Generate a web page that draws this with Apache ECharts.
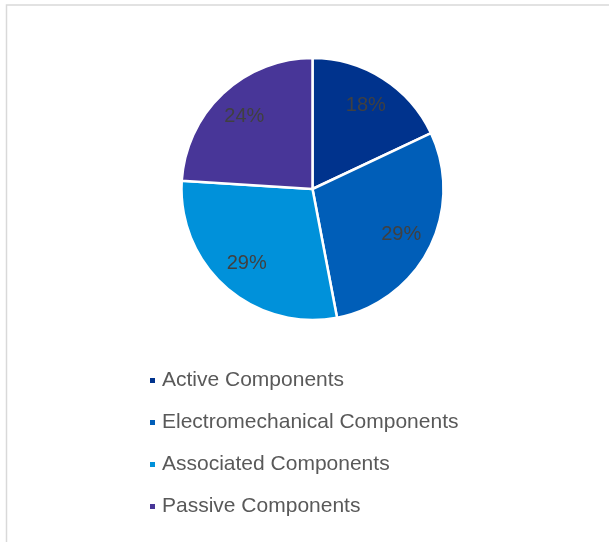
<!DOCTYPE html>
<html>
<head>
<meta charset="utf-8">
<script src="https://cdn.jsdelivr.net/npm/echarts@6/dist/echarts.min.js"></script>
<style>
  html, body { margin: 0; padding: 0; background: #ffffff; }
  #chart { width: 609px; height: 542px; }
</style>
</head>
<body>
<div id="chart"></div>
<script>
// Component categories and their shares (%)
const categories = ['Active Components', 'Electromechanical Components', 'Associated Components', 'Passive Components'];
const shares = [18, 29, 29, 24];
const colors = ['#00338D', '#005EB8', '#0091DA', '#483698'];

const center = [312.5, 189];
const outerR = 131;

const sliceData = categories.map((name, i) => ({
  name: name,
  value: shares[i],
  itemStyle: { color: colors[i] }
}));

const chart = echarts.init(document.getElementById('chart'), null, { renderer: 'canvas' });

chart.setOption({
  backgroundColor: '#ffffff',
  animation: false,
  graphic: [{
    type: 'rect',
    shape: { x: 6.5, y: 5, width: 800, height: 800 },
    style: { fill: 'none', stroke: '#d9d9d9', lineWidth: 1.5 },
    silent: true,
    z: -10
  }],
  legend: {
    orient: 'vertical',
    left: 143,
    top: 365,
    itemWidth: 7,
    itemHeight: 7,
    itemGap: 21,
    icon: 'rect',
    selectedMode: false,
    data: categories,
    textStyle: {
      fontFamily: 'Liberation Sans, Arial, sans-serif',
      fontSize: 21,
      lineHeight: 21,
      color: '#595959',
      padding: [0, 0, 0, 1]
    }
  },
  series: [
    {
      // the pie itself
      type: 'pie',
      center: center,
      radius: [0, outerR],
      startAngle: 90,
      clockwise: true,
      label: { show: false },
      labelLine: { show: false },
      itemStyle: { borderColor: '#ffffff', borderWidth: 2.5 },
      emphasis: { disabled: true },
      data: sliceData
    },
    {
      // transparent ring that carries the percentage labels
      type: 'pie',
      center: center,
      radius: [62, outerR],
      startAngle: 90,
      clockwise: true,
      silent: true,
      itemStyle: { color: 'rgba(0,0,0,0)', borderWidth: 0 },
      label: {
        show: true,
        position: 'inside',
        formatter: '{c}%',
        fontFamily: 'Liberation Sans, Arial, sans-serif',
        fontSize: 20,
        color: '#404040'
      },
      labelLine: { show: false },
      emphasis: { disabled: true },
      data: categories.map((name, i) => ({ name: name, value: shares[i] }))
    }
  ]
});
</script>
</body>
</html>
